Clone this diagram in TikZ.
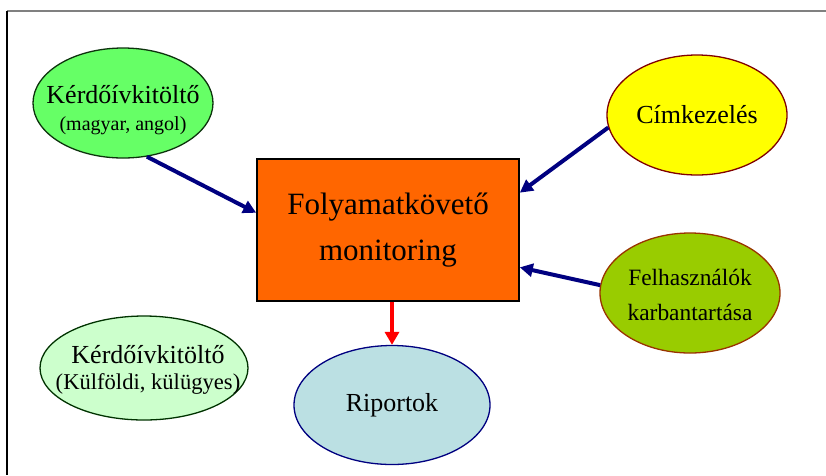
\documentclass[tikz,border=0pt]{standalone}
\usepackage{fontspec}
\setmainfont{Liberation Serif}
\usetikzlibrary{shapes.geometric,arrows.meta,calc}
\definecolor{gA}{HTML}{66FF66}
\definecolor{gAb}{HTML}{0D330D}
\definecolor{yA}{HTML}{FFFF00}
\definecolor{yAb}{HTML}{800000}
\definecolor{oA}{HTML}{99CC00}
\definecolor{oAb}{HTML}{993300}
\definecolor{lgA}{HTML}{CCFFCC}
\definecolor{lgAb}{HTML}{003300}
\definecolor{bA}{HTML}{BBE0E3}
\definecolor{navyc}{HTML}{000080}
\definecolor{orA}{HTML}{FF6600}
\begin{document}
\begin{tikzpicture}[x=1pt,y=-1pt,
  ell/.style={ellipse,draw,line width=1.3pt,inner sep=0pt},
  txt/.style={align=center,inner sep=0pt},
  navyarrow/.style={draw=navyc,line width=4pt,-{Triangle[length=13pt,width=13pt]}},
  redarrow/.style={draw=red,line width=4pt,-{Triangle[length=13pt,width=14pt]}}]
\useasboundingbox (0,0) rectangle (826,475);
\fill[white] (0,0) rectangle (826,475);
\draw[line width=1.5pt,gray] (7,11) -- (826,11);
\draw[line width=1.2pt,black] (7,11) -- (7,475);
% nodes
\node[ell,fill=gA,draw=gAb,minimum width=180,minimum height=110,
  label={[txt,font=\fontsize{26}{28}\selectfont,yshift=-7pt]center:Kérdőívkitöltő\\[-1pt]{\fontsize{20}{24}\selectfont (magyar, angol)}}] (k1) at (123,103) {};
\node[ell,fill=yA,draw=yAb,minimum width=180,minimum height=120,
  label={[txt,font=\fontsize{26}{30}\selectfont]center:Címkezelés}] (cim) at (697,115) {};
\node[ell,fill=oA,draw=oAb,minimum width=180,minimum height=120,
  label={[txt,font=\fontsize{23.4}{35}\selectfont,yshift=-2pt]center:Felhasználók\\karbantartása}] (fel) at (690,293) {};
\node[ell,fill=lgA,draw=lgAb,minimum width=208,minimum height=104,
  label={[txt,font=\fontsize{26}{28}\selectfont,yshift=-2pt,xshift=4pt]center:Kérdőívkitöltő\\[-2pt]{\fontsize{22.6}{24}\selectfont (Külföldi, külügyes)}}] (k2) at (144,368) {};
\node[ell,fill=bA,draw=navyc,minimum width=196,minimum height=119,
  label={[txt,font=\fontsize{26}{30}\selectfont]center:Riportok}] (rip) at (392,405) {};
\node[draw=black,line width=1.6pt,fill=orA,minimum width=262,minimum height=142,inner sep=0pt,
  label={[txt,font=\fontsize{31}{46}\selectfont]center:Folyamatkövető\\monitoring}] (fm) at (388,230) {};
% connectors
\draw[navyarrow] (k1.-66) -- ($(fm.north west)!0.38!(fm.south west)$);
\draw[navyarrow] (cim.188) -- ($(fm.north east)!0.24!(fm.south east)$);
\draw[navyarrow] (fel.175) -- ($(fm.north east)!0.76!(fm.south east)$);
\draw[redarrow] (rip.north |- fm.south) -- (rip.north);
\end{tikzpicture}
\end{document}
